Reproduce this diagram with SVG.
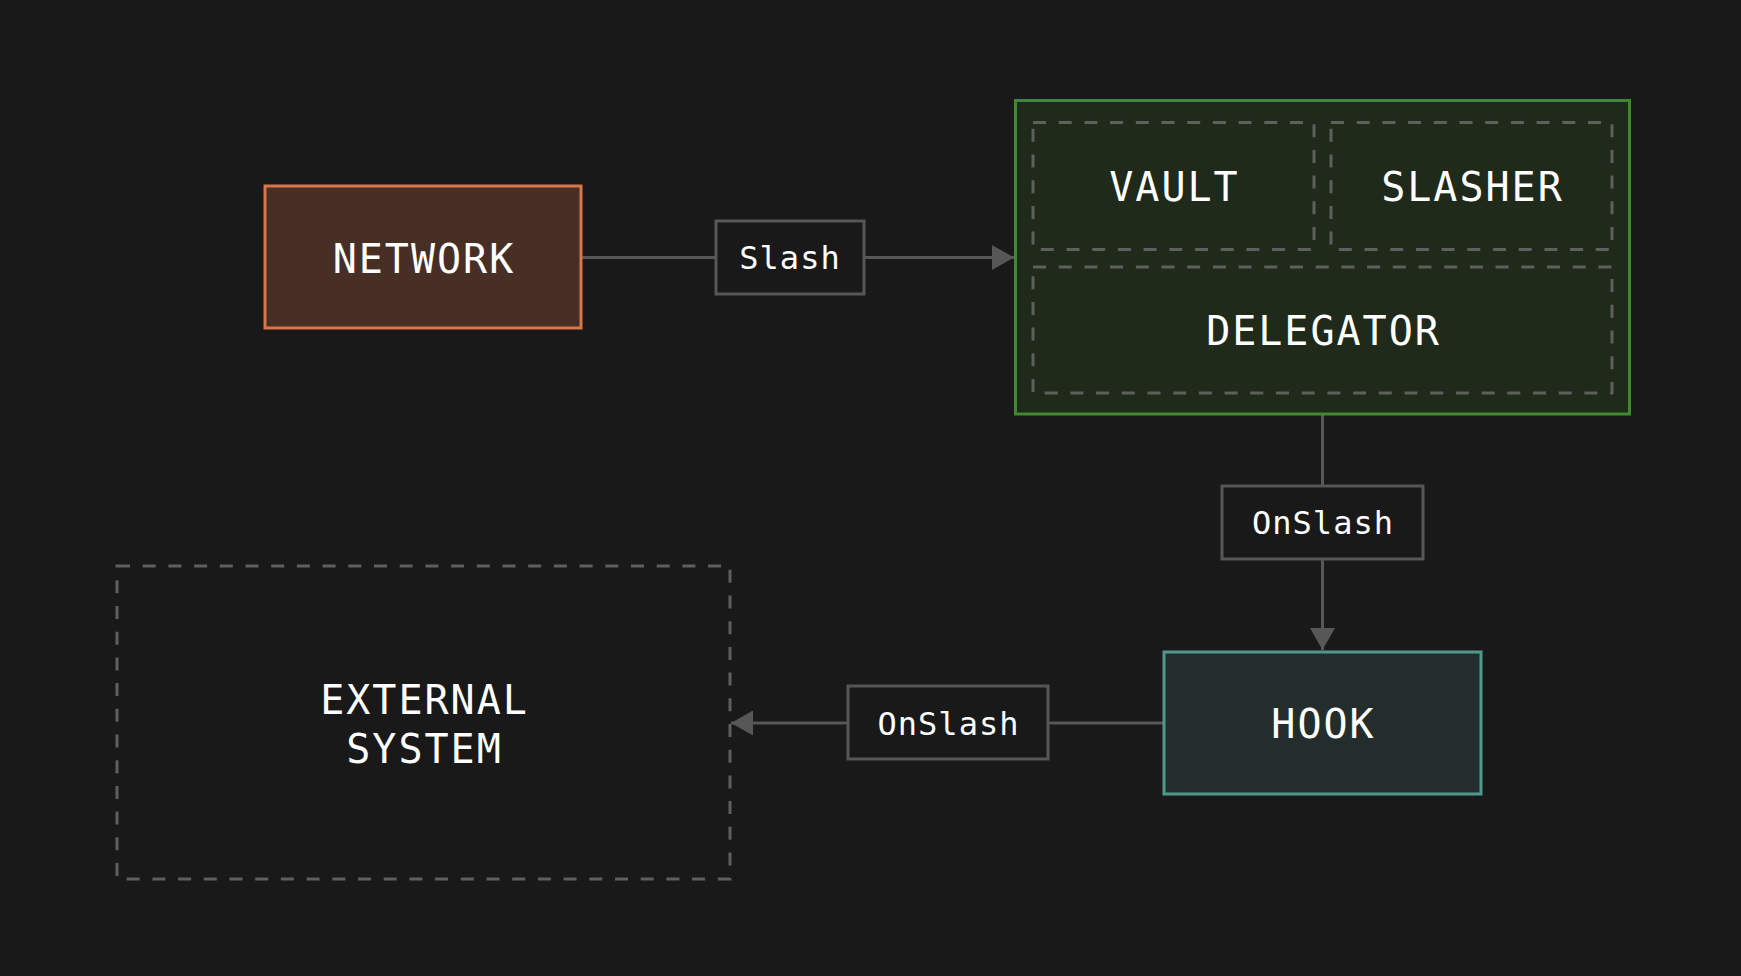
<svg xmlns="http://www.w3.org/2000/svg" width="1741" height="976" viewBox="0 0 1741 976">
  <defs>
    <style>
      .head { font-family: "DejaVu Sans Mono", "Liberation Mono", monospace; font-size: 40px; fill: #ffffff; text-anchor: middle; letter-spacing: 2px; }
      .lbl { font-family: "DejaVu Sans Mono", "Liberation Mono", monospace; font-size: 32px; fill: #ffffff; text-anchor: middle; letter-spacing: 1px; }
      .lblbox { fill: #191919; stroke: #575757; stroke-width: 3; }
      .dash { fill: none; stroke: #5f5f5f; stroke-width: 3; stroke-dasharray: 13 12.7; }
      .conn { fill: none; stroke: #575757; stroke-width: 3; }
    </style>
    <marker id="arrow" viewBox="0 0 22 25" refX="22" refY="12.5" markerWidth="22" markerHeight="25" markerUnits="userSpaceOnUse" orient="auto">
      <path d="M0,0 L22,12.5 L0,25 Z" fill="#575757"/>
    </marker>
  </defs>
  <rect x="0" y="0" width="1741" height="976" fill="#191919"/>

  <g id="connectors">
    <line class="conn" x1="582" y1="257.5" x2="715" y2="257.5"/>
    <line class="conn" x1="864" y1="257.5" x2="1014" y2="257.5" marker-end="url(#arrow)"/>
    <line class="conn" x1="1322.5" y1="395" x2="1322.5" y2="485"/>
    <line class="conn" x1="1322.5" y1="560" x2="1322.5" y2="650" marker-end="url(#arrow)"/>
    <line class="conn" x1="1164" y1="723" x2="1048" y2="723"/>
    <line class="conn" x1="847" y1="723" x2="731" y2="723" marker-end="url(#arrow)"/>
  </g>

  <g id="network">
    <rect x="265" y="186" width="316" height="142" fill="#472f25" stroke="#d9774a" stroke-width="3"/>
    <text class="head" x="424" y="273">NETWORK</text>
  </g>

  <g id="label-slash">
    <rect class="lblbox" x="716" y="221" width="148" height="73"/>
    <text class="lbl" x="790" y="269">Slash</text>
  </g>

  <g id="vault-system">
    <rect x="1015.5" y="100.5" width="614" height="313.5" fill="#1f2a1b" stroke="#3f8a2a" stroke-width="3"/>
  </g>

  <g id="vault">
    <rect class="dash" x="1033" y="122.5" width="281" height="127"/>
    <text class="head" x="1174.5" y="201">VAULT</text>
  </g>

  <g id="slasher">
    <rect class="dash" x="1331" y="122.5" width="281" height="127"/>
    <text class="head" x="1472.5" y="201">SLASHER</text>
  </g>

  <g id="delegator">
    <rect class="dash" x="1033" y="267" width="579" height="126"/>
    <text class="head" x="1323.5" y="345">DELEGATOR</text>
  </g>

  <g id="label-onslash-1">
    <rect class="lblbox" x="1222" y="486" width="201" height="73"/>
    <text class="lbl" x="1323" y="534">OnSlash</text>
  </g>

  <g id="hook">
    <rect x="1164" y="652" width="317" height="142" fill="#232e2c" stroke="#4f9a8c" stroke-width="3"/>
    <text class="head" x="1323.5" y="738">HOOK</text>
  </g>

  <g id="label-onslash-2">
    <rect class="lblbox" x="848" y="686" width="200" height="73"/>
    <text class="lbl" x="948.5" y="735">OnSlash</text>
  </g>

  <g id="external-system">
    <rect class="dash" x="117" y="566" width="613" height="313"/>
    <text class="head" x="424.5" y="714">EXTERNAL</text>
    <text class="head" x="424.5" y="763">SYSTEM</text>
  </g>
</svg>
